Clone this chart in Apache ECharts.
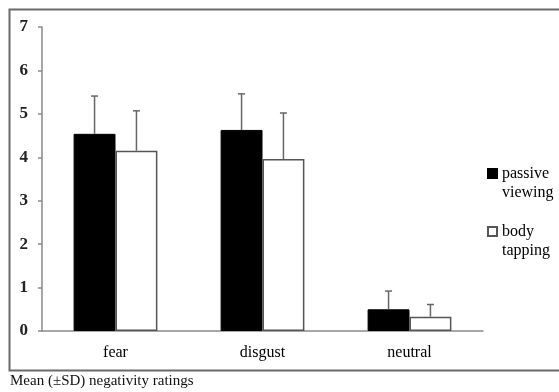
<!DOCTYPE html>
<html>
<head>
<meta charset="utf-8">
<script src="https://cdn.jsdelivr.net/npm/echarts@6/dist/echarts.min.js"></script>
<style>
  html, body { margin: 0; padding: 0; background: #fff; }
  #chart { width: 559px; height: 392px; }
</style>
</head>
<body>
<div id="chart"></div>
<script>
  const categories = ['fear', 'disgust', 'neutral']
  const passiveMean = [4.54, 4.63, 0.50]
  const passiveSD = [0.87, 0.83, 0.42]
  const tappingMean = [4.15, 3.96, 0.33]
  const tappingSD = [0.92, 1.06, 0.28]
  const yTicks = [0, 1, 2, 3, 4, 5, 6, 7]

  const serif = 'Liberation Serif'
  const catGap = 0.43

  // error bar (upward only, with cap), shifted onto its bar
  function errorBar (side) {
    return function (params, api) {
      const cat = api.value(0)
      const base = api.coord([cat, api.value(1)])
      const top = api.coord([cat, api.value(1) + api.value(2)])
      const band = api.size([1, 0])[0]
      const x = base[0] + side * band * (1 - catGap) / 4
      const style = { stroke: '#666', lineWidth: 1.5 }
      return {
        type: 'group',
        children: [
          { type: 'line', shape: { x1: x, y1: base[1], x2: x, y2: top[1] }, style: style },
          { type: 'line', shape: { x1: x - 3.5, y1: top[1], x2: x + 3.5, y2: top[1] }, style: style }
        ]
      }
    }
  }

  const chart = echarts.init(document.getElementById('chart'))
  chart.setOption({
    animation: false,
    graphic: [
      {
        type: 'rect',
        shape: { x: 9.5, y: 9.5, width: 620, height: 361 },
        style: { fill: 'none', stroke: '#6a6a6a', lineWidth: 2 },
        z: -1
      },
      {
        type: 'text',
        left: 10,
        top: 374,
        style: { text: 'Mean (±SD) negativity ratings', font: '15px "Liberation Serif"', fill: '#111' }
      }
    ],
    grid: { left: 42, right: 76, top: 27, bottom: 61 },
    legend: {
      orient: 'vertical',
      left: 482,
      top: 140,
      itemGap: 1,
      itemWidth: 9,
      itemHeight: 9,
      icon: 'rect',
      data: ['passive viewing', 'body tapping'],
      // leading blank line so the icon sits beside the first word
      formatter: function (name) { return '\n' + name.replace(' ', '\n') },
      textStyle: { fontFamily: serif, fontSize: 16, color: '#000', lineHeight: 19 }
    },
    xAxis: {
      type: 'category',
      data: categories,
      axisLine: { lineStyle: { color: '#8a8a8a', width: 1.5 } },
      axisTick: { length: 4, lineStyle: { color: '#8a8a8a', width: 1.5 } },
      axisLabel: { fontFamily: serif, fontSize: 16, color: '#000', margin: 14 }
    },
    yAxis: {
      type: 'value',
      min: 0,
      max: 7,
      interval: 1,
      splitLine: { show: false },
      axisLine: { show: true, lineStyle: { color: '#8a8a8a', width: 1.5 } },
      axisTick: { show: true, length: 4, lineStyle: { color: '#8a8a8a', width: 1.5 } },
      axisLabel: {
        fontFamily: serif, fontSize: 17, fontWeight: 'bold', color: '#222', margin: 14,
        formatter: function (v) { return yTicks.indexOf(v) >= 0 ? String(v) : '' }
      }
    },
    series: [
      {
        name: 'passive viewing',
        type: 'bar',
        data: passiveMean,
        barGap: '0%',
        barCategoryGap: (catGap * 100) + '%',
        itemStyle: { color: '#000', borderColor: '#000', borderWidth: 1 }
      },
      {
        name: 'body tapping',
        type: 'bar',
        data: tappingMean,
        itemStyle: { color: '#fff', borderColor: '#555', borderWidth: 1.5 }
      },
      {
        name: 'passive sd',
        type: 'custom',
        renderItem: errorBar(-1),
        encode: { x: 0, y: 1 },
        data: categories.map((c, i) => [i, passiveMean[i], passiveSD[i]]),
        z: 3
      },
      {
        name: 'tapping sd',
        type: 'custom',
        renderItem: errorBar(1),
        encode: { x: 0, y: 1 },
        data: categories.map((c, i) => [i, tappingMean[i], tappingSD[i]]),
        z: 3
      }
    ]
  })
</script>
</body>
</html>
